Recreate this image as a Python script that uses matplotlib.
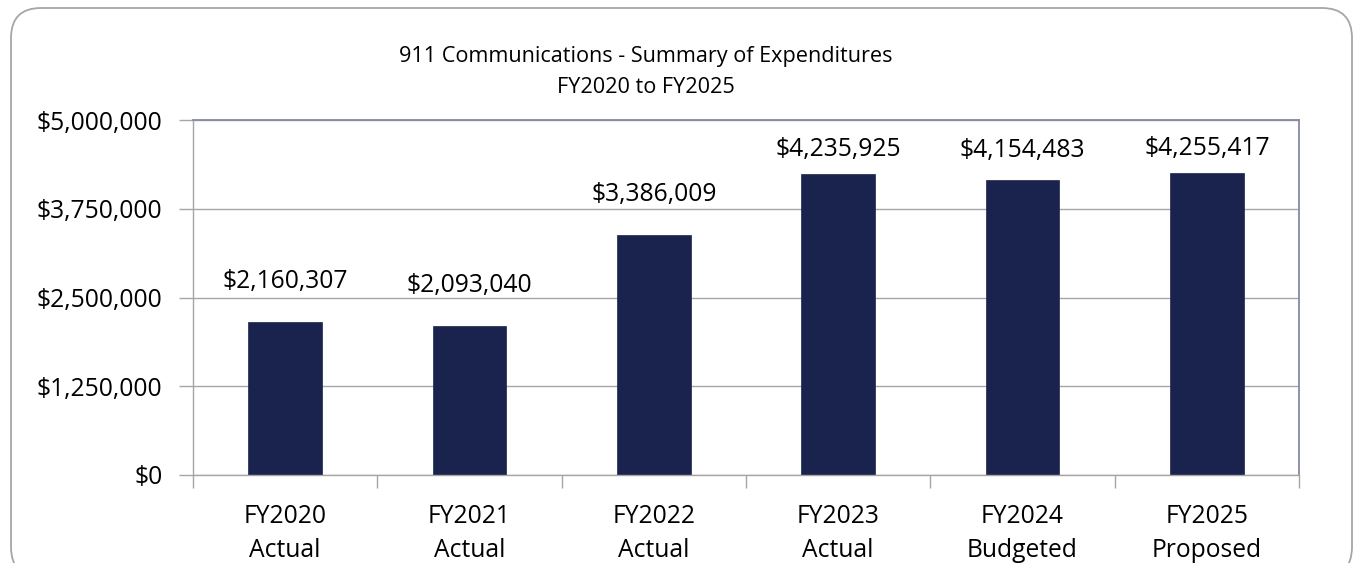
import matplotlib
matplotlib.use("Agg")
import matplotlib.pyplot as plt
from matplotlib.patches import FancyBboxPatch
from matplotlib.ticker import FuncFormatter, FixedLocator

plt.rcParams['font.family'] = ['Open Sans', 'DejaVu Sans']

categories = ["FY2020\nActual", "FY2021\nActual", "FY2022\nActual",
              "FY2023\nActual", "FY2024\nBudgeted", "FY2025\nProposed"]
expenditures = [2160307, 2093040, 3386009, 4235925, 4154483, 4255417]
y_ticks = [0, 1250000, 2500000, 3750000, 5000000]
title_lines = ["911 Communications - Summary of Expenditures", "FY2020 to FY2025"]

# style: label gap above each bar (px)
label_gap_px = [34, 34, 34, 18, 23, 18]

W, H, DPI = 1358, 563, 100
LABEL_FS = 17.7
TITLE_FS = 15.6
fig = plt.figure(figsize=(W / DPI, H / DPI), dpi=DPI)

# rounded outer border (bottom edge lies below the image)
border = FancyBboxPatch((11, -14), 1341, 569,
                        boxstyle="round,pad=0,rounding_size=30",
                        transform=None, fill=False, edgecolor="#a6a6a6",
                        linewidth=1.3)
fig.patches.append(border)

ax = fig.add_axes([193 / W, 1 - 475 / H, (1299 - 193) / W, (475 - 120) / H])
x = list(range(len(categories)))
bars = ax.bar(x, expenditures, width=0.4, color="#1a234d", edgecolor="#1a234d",
              linewidth=0.5, zorder=3)

ax.set_xlim(-0.5, len(categories) - 0.5)
ax.set_ylim(0, 5000000)
ax.set_yticks(y_ticks)
ax.yaxis.set_major_formatter(FuncFormatter(lambda v, p: "${:,.0f}".format(v)))
ax.grid(axis="y", color="#a6a6a6", linewidth=1.0, zorder=0)

ax.set_xticks(x)
ax.set_xticklabels(categories, linespacing=1.46)
ax.xaxis.set_minor_locator(FixedLocator([i - 0.5 for i in range(len(categories) + 1)]))
ax.tick_params(axis="x", which="major", length=0, pad=21, labelsize=LABEL_FS, colors="black")
ax.tick_params(axis="x", which="minor", length=9, width=1.0, color="#a6a6a6", direction="out")
ax.tick_params(axis="y", length=10, width=1.0, color="#a6a6a6", pad=12, labelsize=LABEL_FS)

for s in ["left", "bottom"]:
    ax.spines[s].set_color("#a6a6a6")
    ax.spines[s].set_linewidth(1.0)
for s in ["top", "right"]:
    ax.spines[s].set_color("#868aa3")
    ax.spines[s].set_linewidth(1.3)
ax.spines["bottom"].set_zorder(4)

for xi, v, g in zip(x, expenditures, label_gap_px):
    ax.annotate("${:,.0f}".format(v), (xi, v), xytext=(0, g * 72 / DPI),
                textcoords="offset points", ha="center", va="baseline",
                fontsize=LABEL_FS, color="black", annotation_clip=False)

fig.text(646 / W, 1 - 62 / H, title_lines[0], ha="center", va="baseline", fontsize=TITLE_FS)
fig.text(646 / W, 1 - 93 / H, title_lines[1], ha="center", va="baseline", fontsize=TITLE_FS)

fig.savefig("out.png", dpi=DPI)
